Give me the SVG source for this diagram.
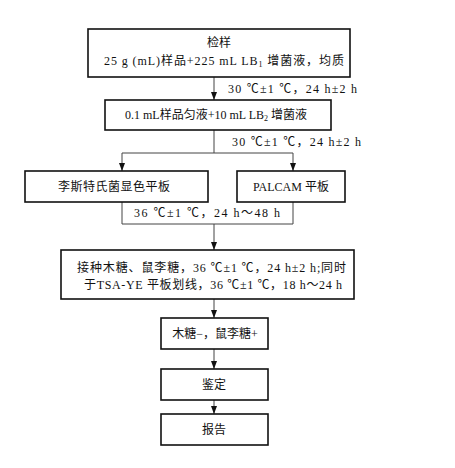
<svg xmlns="http://www.w3.org/2000/svg" width="455" height="468" viewBox="0 0 455 468">
<style>
.box{fill:#fff;stroke:#111;stroke-width:1.6}
.ln{fill:none;stroke:#444;stroke-width:1}
.ah{fill:#111}
text{font-family:"Liberation Serif","Noto Sans CJK SC",serif;font-size:12px;fill:#111}
.c{text-anchor:middle}
.sub{font-size:8px}
</style>
<g id="connectors">
<line class="ln" x1="214" y1="77" x2="214" y2="100"/>
<path class="ah" d="M211,92 L217,92 L214,100 Z"/>
<line class="ln" x1="214" y1="130" x2="214" y2="153"/>
<polyline class="ln" points="122,171 122,153 293,153 293,171"/>
<path class="ah" d="M119,163 L125,163 L122,171 Z"/>
<path class="ah" d="M290,163 L296,163 L293,171 Z"/>
<polyline class="ln" points="122,202 122,224 293,224 293,202"/>
<line class="ln" x1="214" y1="224" x2="214" y2="250"/>
<path class="ah" d="M211,242 L217,242 L214,250 Z"/>
<line class="ln" x1="214" y1="299" x2="214" y2="318"/>
<path class="ah" d="M211,310 L217,310 L214,318 Z"/>
<line class="ln" x1="214" y1="349" x2="214" y2="369"/>
<path class="ah" d="M211,361 L217,361 L214,369 Z"/>
<line class="ln" x1="214" y1="400" x2="214" y2="414"/>
<path class="ah" d="M211,406 L217,406 L214,414 Z"/>
<text x="228" y="93" textLength="129" lengthAdjust="spacing">30 ℃±1 ℃，24 h±2 h</text>
<text x="232" y="146" textLength="129" lengthAdjust="spacing">30 ℃±1 ℃，24 h±2 h</text>
<text x="134" y="217" textLength="146" lengthAdjust="spacing">36 ℃±1 ℃，24 h～48 h</text>
</g>
<g id="n1">
<rect class="box" x="88" y="29" width="262" height="48"/>
<text class="c" x="219" y="47">检样</text>
<text x="104" y="65" textLength="240" lengthAdjust="spacing">25 g (mL)样品+225 mL LB<tspan class="sub" dy="2">1</tspan><tspan dy="-2"> 增菌液，均质</tspan></text>
</g>
<g id="n2">
<rect class="box" x="105" y="100" width="226" height="30"/>
<text class="c" x="216" y="119">0.1 mL样品匀液+10 mL LB<tspan class="sub" dy="2">2</tspan><tspan dy="-2"> 增菌液</tspan></text>
</g>
<g id="n3">
<rect class="box" x="25" y="171" width="183" height="31"/>
<text class="c" x="114" y="191" textLength="112" lengthAdjust="spacing">李斯特氏菌显色平板</text>
</g>
<g id="n4">
<rect class="box" x="237" y="171" width="108" height="31"/>
<text class="c" x="291" y="191">PALCAM 平板</text>
</g>
<g id="n5">
<rect class="box" x="61" y="250" width="293" height="49"/>
<text x="77" y="272" textLength="269" lengthAdjust="spacing">接种木糖、鼠李糖，36 ℃±1 ℃，24 h±2 h;同时</text>
<text x="84" y="289" textLength="258" lengthAdjust="spacing">于TSA-YE 平板划线，36 ℃±1 ℃，18 h～24 h</text>
</g>
<g id="n6">
<rect class="box" x="161" y="318" width="107" height="31"/>
<text class="c" x="215" y="338">木糖−，鼠李糖+</text>
</g>
<g id="n7">
<rect class="box" x="161" y="369" width="107" height="31"/>
<text class="c" x="214" y="389">鉴定</text>
</g>
<g id="n8">
<rect class="box" x="161" y="414" width="107" height="31"/>
<text class="c" x="214" y="434">报告</text>
</g>
</svg>
